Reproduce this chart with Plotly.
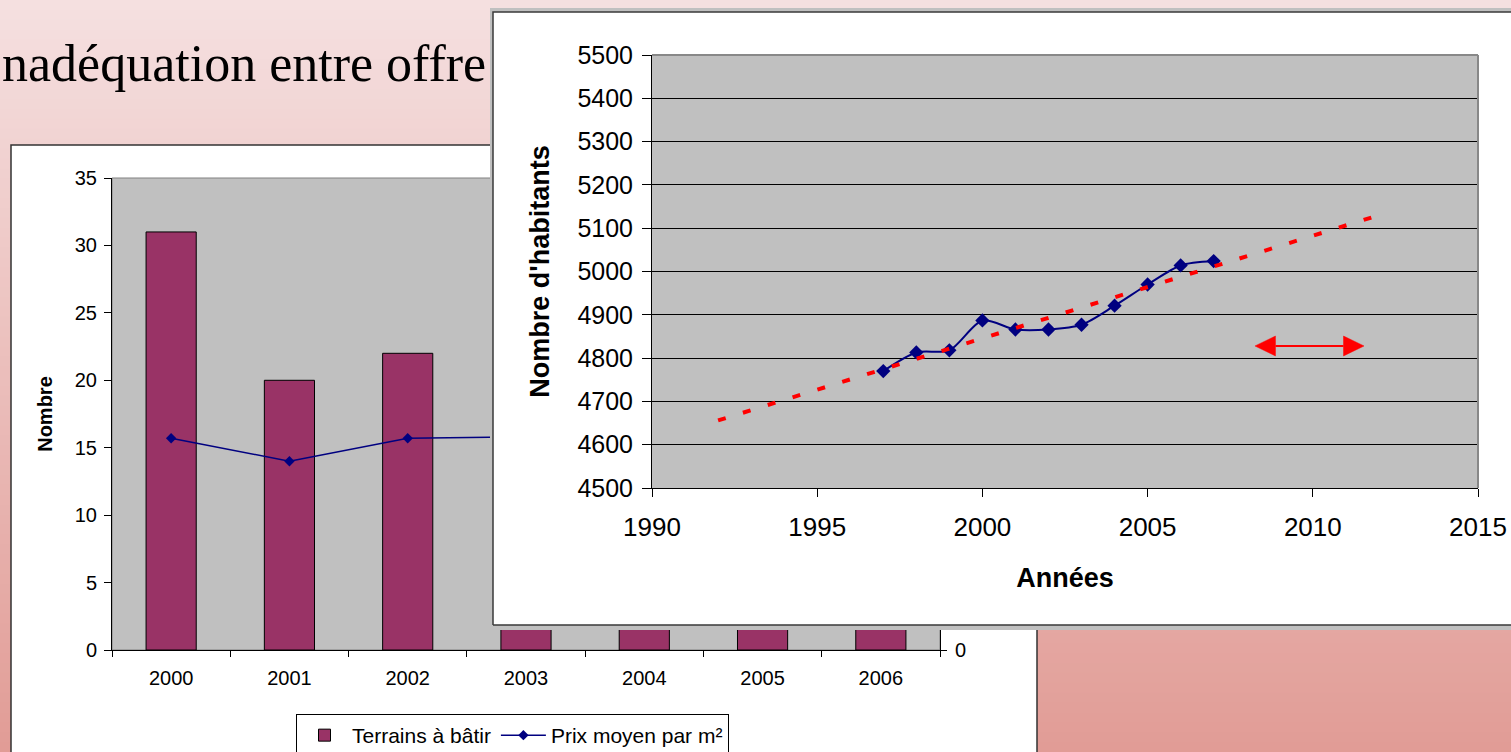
import plotly.graph_objects as go

# ---------------- data ----------------
# Left (background) chart: building plots and average price
bar_years = ["2000", "2001", "2002", "2003", "2004", "2005", "2006"]
terrains_a_batir = [31, 20, 22, 15, 12, 10, 9]
prix_moyen_m2 = [31.4, 28.0, 31.4, 31.6, 35.0, 40.0, 45.0]
bar_y_ticks = [0, 5, 10, 15, 20, 25, 30, 35]
bar_y2_ticks = [0]          # the other right-axis labels are hidden behind the inset chart

# Right (foreground) chart: population
pop_years = [1997, 1998, 1999, 2000, 2001, 2002, 2003, 2004, 2005, 2006, 2007]
population = [4770, 4813, 4818, 4887, 4866, 4866, 4877, 4921, 4970, 5014, 5024]
trend_years = [1992, 2012]
trend_values = [4656, 5130]
pop_x_ticks = [1990, 1995, 2000, 2005, 2010, 2015]
pop_y_ticks = [4500, 4600, 4700, 4800, 4900, 5000, 5100, 5200, 5300, 5400, 5500]

title_text = "nadéquation entre offre"

# ---------------- layout helpers ----------------
W, H = 1511, 752
def px(x):
    return x / W
def py(y):
    return 1 - y / H

SANS = "Liberation Sans"
fig = go.Figure()

# bar chart (lowest subplot)
fig.add_trace(go.Bar(
    x=bar_years, y=terrains_a_batir, name="Terrains à bâtir",
    marker=dict(color="#993366", line=dict(color="black", width=1)),
    xaxis="x", yaxis="y"))
fig.add_trace(go.Scatter(
    x=bar_years, y=prix_moyen_m2, name="Prix moyen par m²", mode="lines+markers",
    line=dict(color="#000080", width=1.5),
    marker=dict(symbol="diamond", size=8, color="#000080"),
    xaxis="x", yaxis="y2"))

# white panel of the foreground chart (decoration, axis units = screen pixels)
panel_x = [493, 1540, 1540, 493, 493]
panel_y = [-625, -625, -12, -12, -625]
fig.add_trace(go.Scatter(
    x=panel_x, y=panel_y, fill="toself", fillcolor="white", mode="lines",
    line=dict(color="#3a3a3a", width=1.5), hoverinfo="skip", showlegend=False,
    xaxis="x2", yaxis="y3"))

# population chart
fig.add_trace(go.Scatter(
    x=pop_years, y=population, mode="lines+markers", showlegend=False,
    line=dict(color="#000080", width=2, shape="spline", smoothing=0.8),
    marker=dict(symbol="diamond", size=11, color="#000080"),
    xaxis="x3", yaxis="y4"))
fig.add_trace(go.Scatter(
    x=trend_years, y=trend_values, mode="lines", showlegend=False,
    line=dict(color="#ff0000", width=4, dash="8px,18px"),
    xaxis="x3", yaxis="y4"))

# ---------------- shapes ----------------
shapes = []
top_rgb = (245, 224, 224)
bot_rgb = (225, 156, 150)
n = 76
for i in range(n):
    t = (i + 0.5) / n
    c = tuple(round(a + (b - a) * t) for a, b in zip(top_rgb, bot_rgb))
    shapes.append(dict(type="rect", xref="paper", yref="paper", layer="below",
                       x0=0, x1=1, y0=1 - (i + 1) / n - 0.002, y1=1 - i / n,
                       fillcolor="rgb(%d,%d,%d)" % c, line=dict(width=0)))
# white box of the bar chart
shapes.append(dict(type="rect", xref="paper", yref="paper", layer="below",
                   x0=px(11), x1=px(1037), y0=py(770), y1=py(145),
                   fillcolor="white", line=dict(color="#333333", width=1.5)))
# grey plot area of the bar chart
shapes.append(dict(type="rect", xref="x domain", yref="y domain", layer="below",
                   x0=0, x1=1, y0=0, y1=1,
                   fillcolor="#c0c0c0", line=dict(color="#808080", width=1)))
# grey top/right frame of population plot area
shapes.append(dict(type="line", xref="x3 domain", yref="y4 domain", layer="above",
                   x0=0, x1=1, y0=1, y1=1, line=dict(color="#888888", width=2)))
shapes.append(dict(type="line", xref="x3 domain", yref="y4 domain", layer="above",
                   x0=1, x1=1, y0=0, y1=1, line=dict(color="#888888", width=2)))
# red double arrow
arr_x0, arr_x1, arr_y = 2008.25, 2011.55, 4828
head_len, head_half = 0.62, 23
shapes.append(dict(type="line", xref="x3", yref="y4", layer="above",
                   x0=arr_x0 + head_len, x1=arr_x1 - head_len, y0=arr_y, y1=arr_y,
                   line=dict(color="#ff0000", width=2)))
shapes.append(dict(type="path", xref="x3", yref="y4", layer="above",
                   path="M %f,%f L %f,%f L %f,%f Z" % (arr_x0, arr_y, arr_x0 + head_len, arr_y + head_half,
                                                      arr_x0 + head_len, arr_y - head_half),
                   fillcolor="#ff0000", line=dict(color="#ff0000", width=0.5)))
shapes.append(dict(type="path", xref="x3", yref="y4", layer="above",
                   path="M %f,%f L %f,%f L %f,%f Z" % (arr_x1, arr_y, arr_x1 - head_len, arr_y + head_half,
                                                      arr_x1 - head_len, arr_y - head_half),
                   fillcolor="#ff0000", line=dict(color="#ff0000", width=0.5)))

common_ax = dict(automargin=False, zeroline=False, showgrid=False)

fig.update_layout(
    template="none",
    width=W, height=H, autosize=False,
    margin=dict(l=0, r=0, t=0, b=0, pad=0, autoexpand=False),
    paper_bgcolor="white", plot_bgcolor="#c0c0c0",
    font=dict(family=SANS, color="black"),
    hovermode=False,
    bargap=0.576,
    shapes=shapes,
    showlegend=True,
    legend=dict(orientation="h", x=px(296), y=py(714), xanchor="left", yanchor="top",
                bgcolor="white", bordercolor="black", borderwidth=1,
                font=dict(family=SANS, size=21, color="black"), itemwidth=45),
    annotations=[dict(text=title_text, xref="paper", yref="paper", x=0, y=py(63),
                      xanchor="left", yanchor="middle", showarrow=False,
                      font=dict(family="Liberation Serif", size=52, color="black"))],
    xaxis=dict(common_ax, domain=[px(112), px(940)], anchor="y", type="category",
               ticks="outside", tickson="boundaries", ticklen=6, tickcolor="black",
               showline=True, linecolor="black", linewidth=1,
               tickfont=dict(size=20), ticklabelstandoff=10),
    yaxis=dict(common_ax, domain=[py(650), py(178)], anchor="x", range=[0, 35], tickvals=bar_y_ticks,
               ticks="outside", ticklen=7, tickcolor="black", showline=True, linecolor="black",
               tickfont=dict(size=20), ticklabelstandoff=3,
               title=dict(text="<b>Nombre</b>", font=dict(size=20), standoff=16)),
    yaxis2=dict(common_ax, overlaying="y", side="right", anchor="x", range=[0, 70], tickvals=bar_y2_ticks,
                ticks="outside", ticklen=6, tickcolor="black", showline=True, linecolor="black",
                tickfont=dict(size=20), ticklabelstandoff=4),
    xaxis2=dict(common_ax, domain=[px(490), 1], anchor="y3", range=[490, 1511], visible=False),
    yaxis3=dict(common_ax, domain=[py(630), py(8)], anchor="x2", range=[-630, -8], visible=False),
    xaxis3=dict(common_ax, domain=[px(652), px(1478)], anchor="y4", range=[1990, 2015], tickvals=pop_x_ticks,
                ticks="outside", ticklen=8, tickcolor="black", showline=True, linecolor="black",
                tickfont=dict(size=26), ticklabelstandoff=8,
                title=dict(text="<b>Années</b>", font=dict(size=27), standoff=26)),
    yaxis4=dict(domain=[py(488), py(55)], anchor="x3", range=[4500, 5500], tickvals=pop_y_ticks,
                automargin=False, zeroline=False,
                ticks="outside", ticklen=9, tickcolor="black", showline=True, linecolor="black",
                showgrid=True, gridcolor="black", gridwidth=1,
                tickfont=dict(size=25), ticklabelstandoff=4,
                title=dict(text="<b>Nombre d'habitants</b>", font=dict(size=27), standoff=19)),
)

fig.write_html("out.html", config={"displayModeBar": False},
               post_script="document.body.style.margin='0px';")
